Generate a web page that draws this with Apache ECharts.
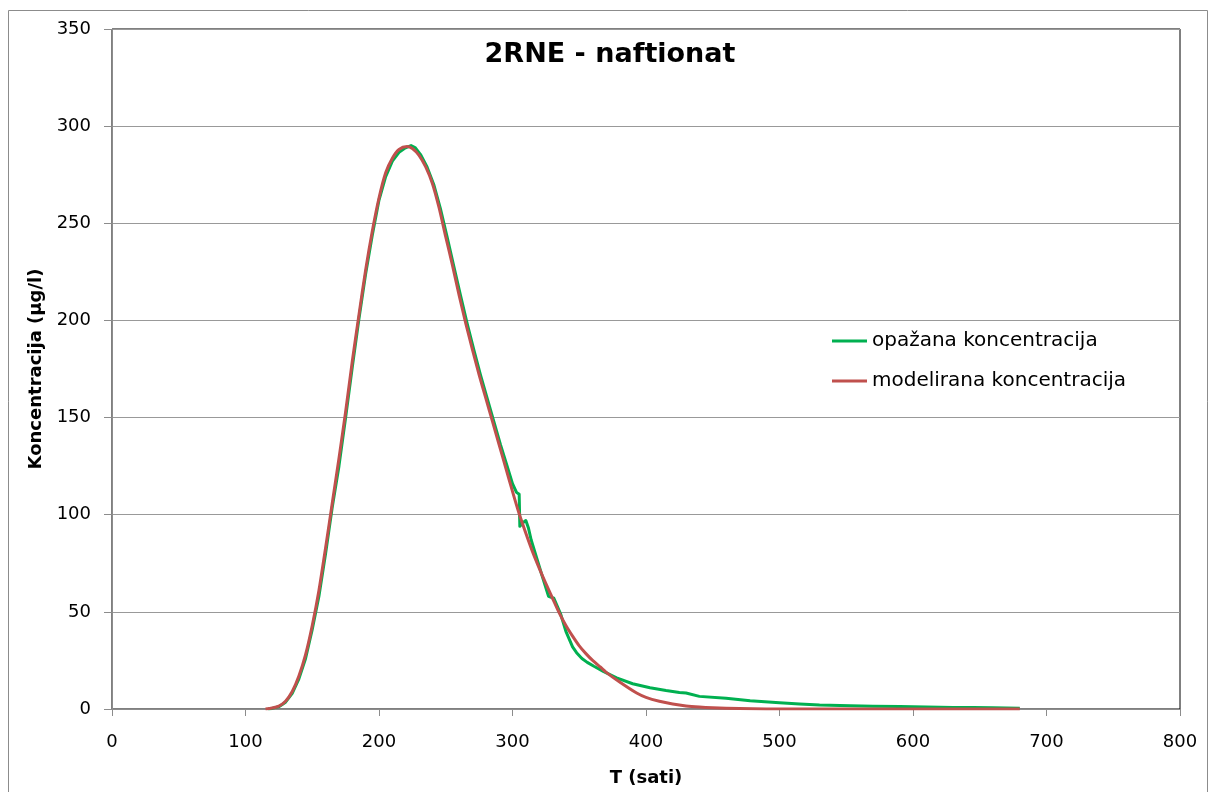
<!DOCTYPE html>
<html>
<head>
<meta charset="utf-8">
<script src="https://cdn.jsdelivr.net/npm/echarts@6/dist/echarts.min.js"></script>
<style>
html,body{margin:0;padding:0;background:#fff;}
#chart{width:1212px;height:792px;}
</style>
</head>
<body>
<div id="chart"></div>
<script>
var titleText = '2RNE - naftionat';
var xTitle = 'T (sati)';
var yTitle = 'Koncentracija (µg/l)';
var seriesNames = ['opažana koncentracija', 'modelirana koncentracija'];

// observed (opažana) concentration
var obsT = [117,120,125,130,135,140,145,150,155,160,165,170,175,180,185,190,195,200,205,210,215,219,222,224,227,231,236,241,246,251,256,261,266,271,276,281,286,291,296,300,303,305,305.5,308,310,312,314,318,322,327,331,336,340,345,348,352,356,361,368,378,390,403,415,425,430,440,460,478,500,515,530,553,570,590,610,630,642,643,645,660,680];
var obsC = [0,0.3,1.2,3.5,8,15.5,26,41,58,80,104,125,150,176,201,224,244,262,274,282,286.5,288.5,289.5,290,289,285.5,279,270,257.5,243,228,213,198.5,185,172,160,148,136,125,116,111.5,110.5,94,96,97,93,87,78,69,58,57,49,40,32,29,26,24,22,19.4,16,13,10.9,9.5,8.5,8.2,6.5,5.5,4.3,3.2,2.6,2.1,1.7,1.4,1.3,1.0,0.8,0.8,1.8,0.8,0.6,0.4];

// modelled (modelirana) concentration
var modT = [115,120,125,130,135,140,145,150,155,160,165,170,175,180,185,190,195,200,205,210,215,221,225,230,235,240,245,250,255,260,265,270,275,280,285,290,295,300,305,310,315,320,325,330,335,340,345,350,355,360,366,370,380,393,400,410,420,430,440,450,460,480,500,550,600,650,680];
var modC = [0,0.5,1.5,4,9,17,28,43,61,83,106,129,153,179,203,226,246,263,276,283.5,288,289.5,288.5,285,279,270.5,258,243,228.5,213,198.5,185,172,160,148,136,124,112,100.5,90.5,81,72.5,64.5,57,49.5,43,37.5,32.5,28.5,25,21.5,19,14,8.2,6,4,2.6,1.6,1,0.6,0.35,0.1,0.03,0,0,0,0];

var xMin = 0, xMax = 800, xStep = 100;
var yMin = 0, yMax = 350, yStep = 50;

function zip(a, b) { return a.map(function (v, i) { return [v, b[i]]; }); }

var chart = echarts.init(document.getElementById('chart'), null, {renderer: 'canvas'});
var font = 'DejaVu Sans';
chart.setOption({
  backgroundColor: '#fff',
  animation: false,
  title: {
    text: titleText,
    left: 605, top: 36, textAlign: 'center',
    textStyle: {fontFamily: font, fontWeight: 'bold', fontSize: 27, color: '#000'}
  },
  graphic: [{
    type: 'rect', shape: {x: 8.5, y: 10.5, width: 1199, height: 800},
    style: {fill: 'none', stroke: '#8c8c8c', lineWidth: 1}, z: -1
  }],
  legend: {
    orient: 'vertical', left: 827, top: 326,
    itemWidth: 35, itemHeight: 3, itemGap: 20,
    icon: 'rect',
    textStyle: {fontFamily: font, fontSize: 20, color: '#000', lineHeight: 20},
    data: seriesNames
  },
  grid: {left: 112, right: 32, top: 29, bottom: 83, show: true, borderColor: '#000', borderWidth: 1, backgroundColor: 'transparent'},
  xAxis: {
    type: 'value', min: xMin, max: xMax, interval: xStep,
    name: xTitle, nameLocation: 'middle', nameGap: 60,
    nameTextStyle: {fontFamily: font, fontWeight: 'bold', fontSize: 18, color: '#000'},
    axisLine: {show: true, lineStyle: {color: '#8c8c8c', width: 1}},
    axisTick: {show: true, inside: false, length: 7, lineStyle: {color: '#8c8c8c'}},
    axisLabel: {fontFamily: font, fontSize: 18, color: '#000', margin: 24},
    splitLine: {show: false}
  },
  yAxis: {
    type: 'value', min: yMin, max: yMax, interval: yStep,
    name: yTitle, nameLocation: 'middle', nameGap: 66, nameRotate: 90,
    nameTextStyle: {fontFamily: font, fontWeight: 'bold', fontSize: 18, color: '#000'},
    axisLine: {show: true, lineStyle: {color: '#8c8c8c', width: 1}},
    axisTick: {show: true, inside: false, length: 8, lineStyle: {color: '#8c8c8c'}},
    axisLabel: {fontFamily: font, fontSize: 18, color: '#000', margin: 21},
    splitLine: {show: true, lineStyle: {color: '#999999', width: 1}}
  },
  series: [
    {
      name: seriesNames[0], type: 'line', data: zip(obsT, obsC),
      showSymbol: false, symbol: 'none', smooth: false,
      lineStyle: {color: '#00b050', width: 3, join: 'round'}, itemStyle: {color: '#00b050'}, z: 2
    },
    {
      name: seriesNames[1], type: 'line', data: zip(modT, modC),
      showSymbol: false, symbol: 'none', smooth: 0.25,
      lineStyle: {color: '#c0504d', width: 3, join: 'round'}, itemStyle: {color: '#c0504d'}, z: 3
    }
  ]
});
</script>
</body>
</html>
